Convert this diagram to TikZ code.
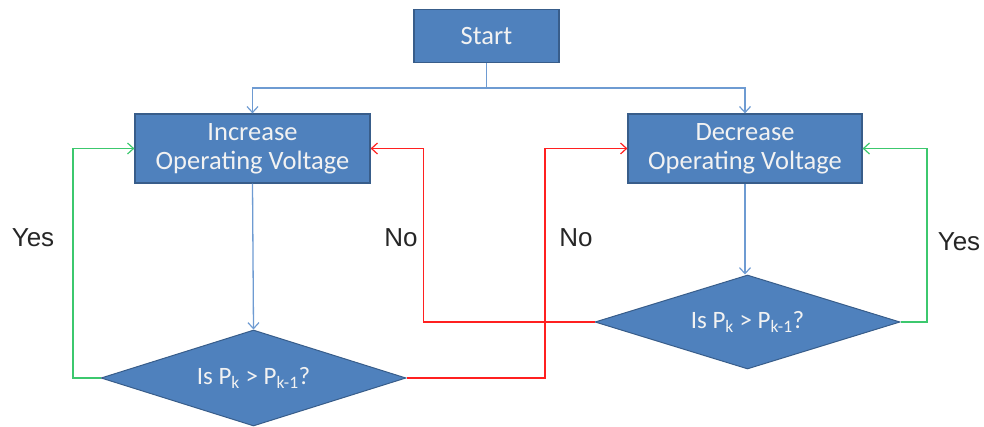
\documentclass[tikz,border=0pt]{standalone}
\usepackage{fontspec}
\setmainfont{Carlito}
\newfontfamily\lblfont{Liberation Sans}
\usetikzlibrary{shapes.geometric,arrows.meta}
\definecolor{boxfill}{HTML}{4F81BD}
\definecolor{boxline}{HTML}{385D8A}
\definecolor{flowblue}{HTML}{6E9BD2}
\definecolor{flowgreen}{HTML}{3CC86E}
\definecolor{flowred}{HTML}{FF2020}
\tikzset{
  procbox/.style={draw=boxline, line width=1.2pt, fill=boxfill, text=white!95!black, align=center,
    inner sep=0pt, font=\fontsize{26.5}{29}\selectfont},
  decbox/.style={diamond, aspect=3.2, draw=boxline, line width=1pt, fill=boxfill, text=white!95!black,
    inner sep=0pt, minimum width=305, minimum height=96, font=\fontsize{25}{28}\selectfont},
  conn/.style={line width=1.3pt, -{Straight Barb[length=6pt,width=11pt,line width=1.2pt]}},
  lbl/.style={font=\lblfont\fontsize{26}{28}\selectfont, text=black!85}
}
\begin{document}
\begin{tikzpicture}[x=1pt,y=-1pt]
\useasboundingbox (0,0) rectangle (984,427);
\node[procbox, minimum width=145, minimum height=53] (start) at (486.5,36) {Start};
\node[procbox, minimum width=235, minimum height=69] (inc) at (252.5,148.5) {Increase\\Operating Voltage};
\node[procbox, minimum width=234, minimum height=69] (dec) at (745,148.5) {Decrease\\Operating Voltage};
\node[decbox] (d1) at (253.5,378) {Is P\textsubscript{k} > P\textsubscript{k-1}?};
\node[decbox, minimum height=94] (d2) at (747.5,322) {Is P\textsubscript{k} > P\textsubscript{k-1}?};
\coordinate (split) at (486.5,88);
% blue flow
\draw[conn, color=flowblue] (start.south) -- (split) -| (inc.north);
\draw[conn, color=flowblue] (split) -| (dec.north);
\draw[conn, color=flowblue] (inc.south) -- (d1.north);
\draw[conn, color=flowblue] (dec.south) -- (d2.north -| dec.south);
% green yes
\draw[conn, color=flowgreen] (d1.west) -| (73,148.5) -- (inc.west);
\draw[conn, color=flowgreen] (d2.east) -| (927,148.5) -- (dec.east);
% red no
\draw[conn, color=flowred] (d2.west) -| (423.5,148.5) -- (inc.east);
\draw[conn, color=flowred] (d1.east) -| (545,148.5) -- (dec.west);
% labels
\node[lbl] (yesl) at (33,238) {Yes};
\node[lbl] (yesr) at (959,242) {Yes};
\node[lbl] (nol) at (401,238) {No};
\node[lbl] (nor) at (576,238) {No};
\end{tikzpicture}
\end{document}
